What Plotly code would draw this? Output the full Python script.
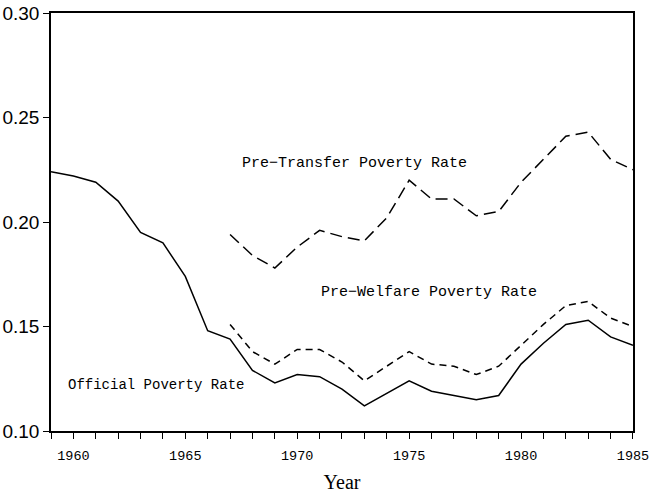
import plotly.graph_objects as go

years_all = list(range(1959, 1986))
years_late = list(range(1967, 1986))

official = [0.224, 0.222, 0.219, 0.210, 0.195, 0.190, 0.174, 0.148, 0.144, 0.129,
            0.123, 0.127, 0.126, 0.120, 0.112, 0.118, 0.124, 0.119, 0.117, 0.115,
            0.117, 0.132, 0.142, 0.151, 0.153, 0.145, 0.141]
pre_welfare = [0.151, 0.138, 0.132, 0.139, 0.139, 0.133, 0.124, 0.131, 0.138, 0.132,
               0.131, 0.127, 0.131, 0.141, 0.151, 0.160, 0.162, 0.154, 0.150]
pre_transfer = [0.194, 0.184, 0.178, 0.188, 0.196, 0.193, 0.191, 0.202, 0.220, 0.211,
                0.211, 0.203, 0.205, 0.219, 0.230, 0.241, 0.243, 0.230, 0.225]

x_ticks = [1960, 1965, 1970, 1975, 1980, 1985]
y_ticks = [0.10, 0.15, 0.20, 0.25, 0.30]
y_ticktext = ["0.10", "0.15", "0.20", "0.25", "0.30"]

labels = ["Pre\u2212Transfer Poverty Rate", "Pre\u2212Welfare Poverty Rate", "Official Poverty Rate"]

fig = go.Figure()
fig.add_trace(go.Scatter(x=years_late, y=pre_transfer, mode="lines",
                         line=dict(color="black", width=1.5, dash="12px,6px"),
                         name=labels[0], showlegend=False))
fig.add_trace(go.Scatter(x=years_late, y=pre_welfare, mode="lines",
                         line=dict(color="black", width=1.5, dash="7px,5px"),
                         name=labels[1], showlegend=False))
fig.add_trace(go.Scatter(x=years_all, y=official, mode="lines",
                         line=dict(color="black", width=1.5),
                         name=labels[2], showlegend=False))

ann_font = dict(family="Liberation Mono", size=15, color="black")
fig.add_annotation(x=1967.45, y=0.228, text=labels[0], showarrow=False,
                   xanchor="left", yanchor="middle", font=ann_font)
fig.add_annotation(x=1970.98, y=0.1665, text=labels[1], showarrow=False,
                   xanchor="left", yanchor="middle", font=ann_font)
fig.add_annotation(x=1959.69, y=0.122, text=labels[2], showarrow=False,
                   xanchor="left", yanchor="middle",
                   font=dict(family="Liberation Mono", size=14, color="black"))

fig.update_layout(
    width=650, height=495,
    margin=dict(l=51, r=17, t=13, b=64, autoexpand=False),
    paper_bgcolor="white", plot_bgcolor="white",
    showlegend=False,
)
fig.update_xaxes(
    range=[1959, 1985.001], tickvals=x_ticks,
    ticks="outside", ticklen=6, tickwidth=1.2, tickcolor="black",
    minor=dict(dtick=1, tick0=1959, ticks="outside", ticklen=6, tickwidth=1.2, tickcolor="black", showgrid=False),
    showline=True, linecolor="black", linewidth=1.5, mirror=True,
    showgrid=False, zeroline=False, automargin=False,
    tickfont=dict(family="Liberation Mono", size=13.5, color="black"),
    ticklabelstandoff=5, ticklabeloverflow="allow",
    title=dict(text="Year", font=dict(family="Liberation Serif", size=20, color="black"), standoff=12),
)
fig.update_yaxes(
    range=[0.10, 0.30], tickvals=y_ticks, ticktext=y_ticktext,
    ticks="outside", ticklen=6, tickwidth=1.2, tickcolor="black",
    showline=True, linecolor="black", linewidth=1.5, mirror=True,
    showgrid=False, zeroline=False, automargin=False,
    tickfont=dict(family="Liberation Sans", size=19, color="black"),
)

fig.write_html("out.html", config={"displayModeBar": False},
               post_script="document.body.style.margin='0';")
